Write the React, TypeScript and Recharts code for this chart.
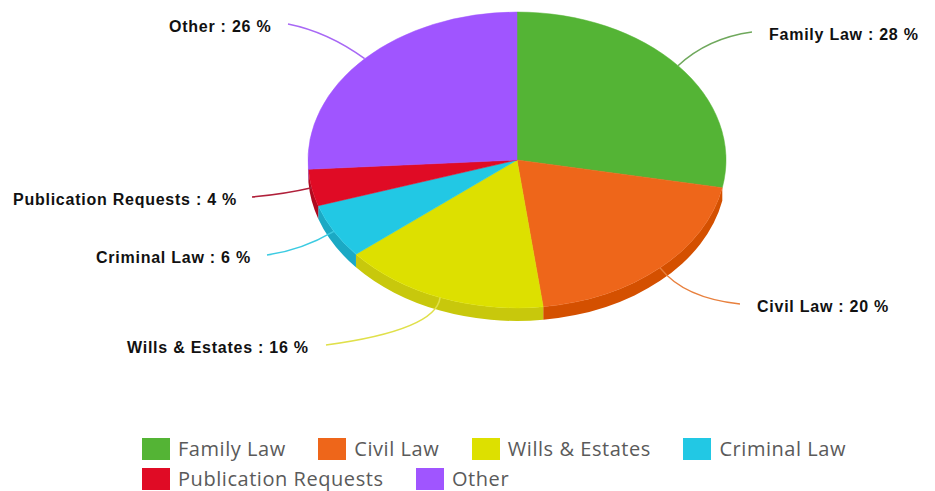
import React from "react";
import { PieChart, Pie, Legend } from "recharts";

const categories = ["Family Law", "Civil Law", "Wills & Estates", "Criminal Law", "Publication Requests", "Other"];
const shares = [28, 20, 16, 6, 4, 26];
const colors = ["#54B435", "#EE661A", "#DDE000", "#22C8E4", "#E00B25", "#A055FF"];
const sideColors = ["#459A2B", "#D45000", "#C8C80C", "#1BA9C4", "#B00A20", "#8A45DE"];
const lineColors = ["#6FA85C", "#E8803E", "#E0E04A", "#3CCBE2", "#B0203A", "#A868F5"];

// where each callout sits around the pie: leader bend, leader end, text left edge and baseline
const calloutBend = [[708, 38], [684, 298], [436, 330], [302, 250], [285, 194], [328, 32]];
const calloutEnd = [[752, 32], [740, 304], [326, 345], [267, 255], [252, 197], [288, 24]];
const calloutText = [[769, 40], [757, 312], [127, 353], [96, 263], [13, 205], [169, 32]];

const data = categories.map((name, i) => ({ name, value: shares[i], fill: colors[i], side: sideColors[i] }));

const SQUASH = 0.708;
const DEPTH = 13;
const RAD = Math.PI / 180;

function EllipseSlice(props: any) {
  const { cx, cy, outerRadius: r, startAngle, endAngle, fill, side } = props;
  const ry = r * SQUASH;
  const at = (a: number, dy = 0) => `${cx + r * Math.cos(a * RAD)} ${cy - ry * Math.sin(a * RAD) + dy}`;
  const large = Math.abs(startAngle - endAngle) > 180 ? 1 : 0;
  const top = `M${cx} ${cy} L${at(startAngle)} A${r} ${ry} 0 ${large} 1 ${at(endAngle)} Z`;

  // side wall, only on the front of the rim (the green slice shows none)
  const a = Math.min(startAngle, -10.8);
  const b = Math.max(endAngle, -180);
  return (
    <g>
      {a > b && (
        <path
          d={`M${at(a)} A${r} ${ry} 0 0 1 ${at(b)} L${at(b, DEPTH)} A${r} ${ry} 0 0 0 ${at(a, DEPTH)} Z`}
          fill={side}
        />
      )}
      <path d={top} fill={fill} stroke={fill} strokeWidth={0.5} />
    </g>
  );
}

function Callout(props: any) {
  const { cx, cy, outerRadius: r, midAngle, index } = props;
  const a = midAngle * RAD;
  const sx = cx + r * Math.cos(a);
  const sy = cy - r * SQUASH * Math.sin(a);
  const [bx, by] = calloutBend[index];
  const [ex, ey] = calloutEnd[index];
  const [tx, ty] = calloutText[index];
  return (
    <g>
      <path d={`M${sx} ${sy} Q${bx} ${by} ${ex} ${ey}`} fill="none" stroke={lineColors[index]} strokeWidth={1.5} />
      <text x={tx} y={ty} fill="#111" fontFamily="Liberation Sans" fontWeight="bold" fontSize={16} letterSpacing={0.75}>
        {`${categories[index]} : ${shares[index]} %`}
      </text>
    </g>
  );
}

function LegendRows() {
  return (
    <div style={{ display: "flex", flexWrap: "wrap", columnGap: 32.5, rowGap: 7, width: 730 }}>
      {categories.map((name, i) => (
        <div key={name} style={{ display: "flex", alignItems: "center", height: 23 }}>
          <span style={{ width: 28, height: 22, background: colors[i], marginRight: 8 }} />
          <span style={{ fontFamily: "Open Sans", fontSize: 20, color: "#5a5a5a", letterSpacing: 0.55, lineHeight: "23px" }}>
            {name}
          </span>
        </div>
      ))}
    </div>
  );
}

export default function App() {
  return (
    <div style={{ position: "absolute", left: 0, top: 0, width: 935, height: 491, background: "#fff" }}>
      <PieChart width={935} height={491} margin={{ top: 0, right: 0, bottom: 0, left: 0 }}>
        <Pie
          data={data}
          dataKey="value"
          nameKey="name"
          cx={517}
          cy={160}
          outerRadius={209}
          startAngle={90}
          endAngle={-270}
          stroke="none"
          shape={EllipseSlice}
          label={Callout}
          labelLine={false}
          isAnimationActive={false}
        />
        <Legend
          layout="horizontal"
          content={<LegendRows />}
          wrapperStyle={{ left: 142, top: 437, width: 730, bottom: "auto" }}
        />
      </PieChart>
    </div>
  );
}
